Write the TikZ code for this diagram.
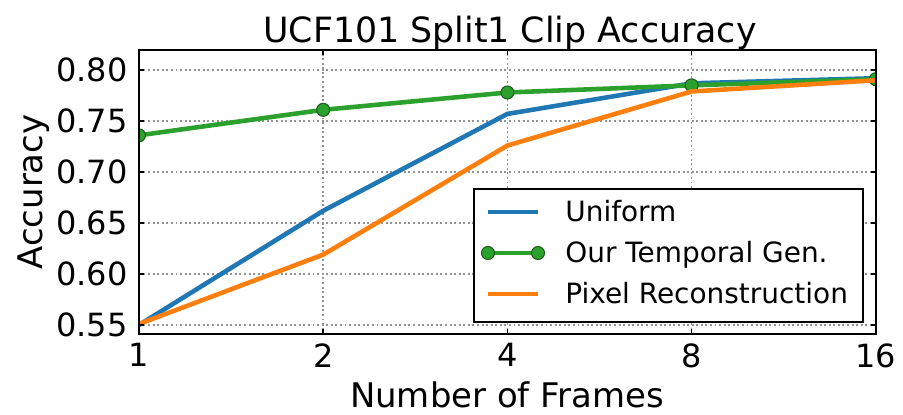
\documentclass[tikz,border=0pt]{standalone}
\usepackage{fontspec}
\setmainfont{DejaVu Sans}
\definecolor{uniblue}{HTML}{1F77B4}
\definecolor{gengreen}{HTML}{2CA02C}
\definecolor{pixorange}{HTML}{FF7F0E}
\definecolor{markedge}{HTML}{1E5A1E}

\begin{document}
\begin{tikzpicture}[x=0.02cm,y=0.02cm,
    gridline/.style={gray!85, line width=0.9pt, dash pattern=on 1.1pt off 1.5pt},
    curve/.style={line width=2.6pt, line join=round},
    gendot/.style={fill=gengreen, draw=markedge, line width=0.6pt},
    ticklabel/.style={inner sep=0pt, font=\fontsize{18.2}{22}\selectfont},
    axislabel/.style={inner sep=0pt, font=\fontsize{19.3}{23}\selectfont},
    legendtext/.style={inner sep=0pt, anchor=base west, font=\fontsize{15.9}{19}\selectfont}]
    \useasboundingbox (0,0) rectangle (903,415);
    % data axes: x = log2(frames), y = accuracy
    \begin{scope}[shift={(2.78cm,-9.42cm)},x=3.685cm,y=20.4cm]
        \foreach \x in {1,2,3}
        \draw[gridline] (\x,0.541) -- (\x,0.8196);
        \foreach \y in {0.55,0.60,0.65,0.70,0.75,0.80}
        \draw[gridline] (0,\y) -- (4,\y);
        \begin{scope}
            \clip (0,0.541) rectangle (4,0.8196);
            \draw[curve, uniblue] plot coordinates
            {(0,0.550) (1,0.662) (2,0.757) (3,0.787) (4,0.792)};
            \draw[curve, gengreen] plot coordinates
            {(0,0.736) (1,0.761) (2,0.778) (3,0.785) (4,0.791)};
            \foreach \x/\y in {0/0.736,1/0.761,2/0.778,3/0.785,4/0.791}
            \draw[gendot] (\x,\y) circle[radius=0.13cm];
            \draw[curve, pixorange] plot coordinates
            {(0,0.551) (1,0.619) (2,0.726) (3,0.779) (4,0.790)};
        \end{scope}
        \draw[line width=1.4pt] (0,0.541) rectangle (4,0.8196);
        \foreach \x/\lab in {0/1,1/2,2/4,3/8,4/16} {
            \draw[line width=1pt] (\x,0.541) -- ++(0,0.1cm);
            \draw[line width=1pt] (\x,0.8196) -- ++(0,-0.1cm);
            \node[ticklabel, below, yshift=-0.18cm] (xtick\lab) at (\x,0.541) {\lab};
        }
        \foreach \y in {0.55,0.60,0.65,0.70,0.75,0.80} {
            \draw[line width=1pt] (0,\y) -- ++(0.1cm,0);
            \draw[line width=1pt] (4,\y) -- ++(-0.1cm,0);
            \node[ticklabel, left, xshift=-0.22cm] (ytick\y) at (0,\y) {\y};
        }
    \end{scope}
    \node[axislabel, anchor=base, font=\fontsize{19.8}{24}\selectfont] (title) at (510,372) {UCF101 Split1 Clip Accuracy};
    \node[axislabel, anchor=base] (xlabel) at (507,7) {Number of Frames};
    \node[axislabel, anchor=base, rotate=90] (ylabel) at (42,223) {Accuracy};
    % legend
    \draw[line width=1.2pt, fill=white] (474,93) rectangle (863,226);
    \draw[curve, uniblue] (488,203) -- (538,203);
    \draw[curve, gengreen] (488,162) -- (538,162);
    \draw[gendot] (488,162) circle[radius=0.13cm];
    \draw[gendot] (538,162) circle[radius=0.13cm];
    \draw[curve, pixorange] (488,121) -- (538,121);
    \node[legendtext] (leguni) at (565,193) {Uniform};
    \node[legendtext] (leggen) at (565,152) {Our Temporal Gen.};
    \node[legendtext] (legpix) at (565,111) {Pixel Reconstruction};
\end{tikzpicture}
\end{document}
